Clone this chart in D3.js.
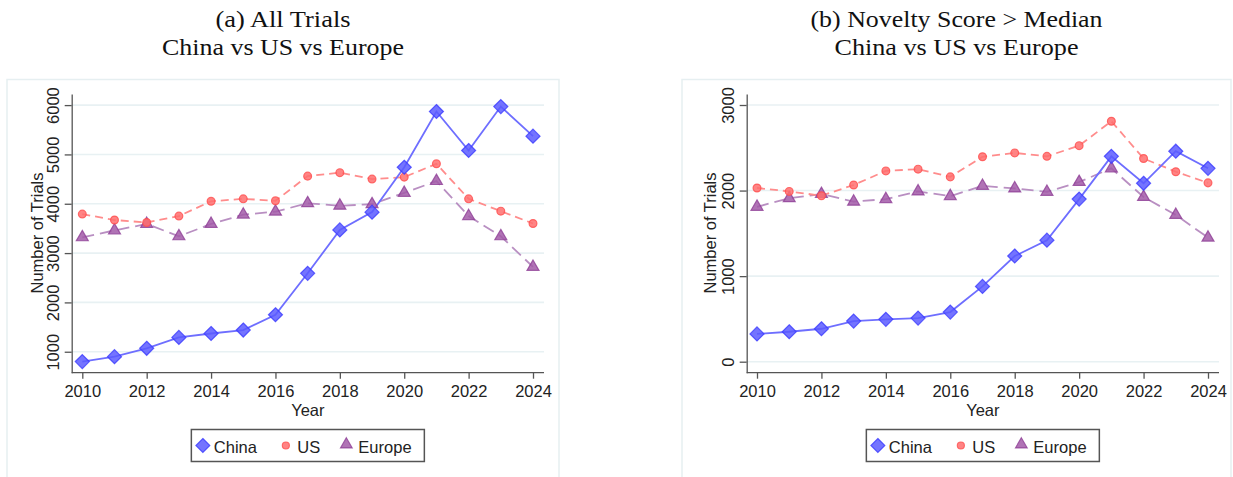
<!DOCTYPE html>
<html><head><meta charset="utf-8">
<script src="https://cdn.jsdelivr.net/npm/d3@7"></script>
<style>body{margin:0;background:#fff}svg{display:block}</style>
</head><body>
<svg id="chart" width="1233" height="477"></svg>
<script>
const years = [2010,2011,2012,2013,2014,2015,2016,2017,2018,2019,2020,2021,2022,2023,2024];
const xTicks = [2010,2012,2014,2016,2018,2020,2022,2024];
// Panel (a) All Trials
const chinaAll  = [800,900,1070,1290,1370,1440,1750,2590,3470,3830,4740,5870,5080,5970,5370];
const usAll     = [3790,3670,3620,3750,4050,4100,4060,4560,4630,4500,4540,4810,4100,3850,3600];
const europeAll = [3320,3460,3590,3340,3590,3780,3840,4010,3960,3990,4220,4460,3750,3340,2720];
const yTicksAll = [1000,2000,3000,4000,5000,6000];
// Panel (b) Novelty Score > Median
const chinaNov  = [325,350,385,475,495,510,580,880,1235,1420,1900,2400,2085,2460,2260];
const usNov     = [2030,1990,1940,2065,2230,2250,2160,2395,2440,2400,2525,2810,2375,2220,2090];
const europeNov = [1810,1910,1960,1870,1900,1990,1935,2055,2025,1985,2100,2260,1925,1715,1450];
const yTicksNov = [0,1000,2000,3000];
const seriesNames = ["China","US","Europe"];
const titlesA = ["(a) All Trials","China vs US vs Europe"];
const titlesB = ["(b) Novelty Score > Median","China vs US vs Europe"];

const svg = d3.select("#chart");
const sans = "'Liberation Sans', Arial, sans-serif";
const serif = "'Liberation Serif', 'Times New Roman', serif";

const styles = {
  China:  {line:"#6e6eff", dash:null, fill:"#5c5cff", stroke:"#3b3bff", sym:d3.symbolDiamond},
  US:     {line:"#ff8c8c", dash:"8,5", fill:"#ff6e6e", stroke:"#ff4d4d", sym:d3.symbolCircle},
  Europe: {line:"#b98fc2", dash:"12,6", fill:"#a25aa8", stroke:"#8e3f96", sym:d3.symbolTriangle}
};

function markerPath(name, size){
  if(name==="China"){
    const h = size; // half diagonal
    return `M0,${-h}L${h},0L0,${h}L${-h},0Z`;
  }
  return d3.symbol().type(styles[name].sym).size(name==="US"? 48 : 62)();
}

function panel(cfg){
  const g = svg.append("g");
  g.append("rect").attr("x",cfg.box[0]).attr("y",cfg.box[1]).attr("width",cfg.box[2]).attr("height",cfg.box[3])
    .attr("fill","none").attr("stroke","#e6eff1").attr("stroke-width",1.5);
  const cx = cfg.box[0] + cfg.box[2]/2;
  cfg.titles.forEach((t,i)=>{
    g.append("text").attr("x",cx).attr("y",[27,55][i]).attr("text-anchor","middle")
      .attr("font-family",serif).attr("font-size",23).attr("fill","#111")
      .attr("textLength",cfg.titleLen[i]).attr("lengthAdjust","spacingAndGlyphs").text(t);
  });
  const x = d3.scaleLinear().domain([2010,2024]).range(cfg.xr);
  const y = d3.scaleLinear().domain(cfg.yd).range([372.7,94]);
  const left = cfg.axisX;
  g.append("g").selectAll("line").data(cfg.yTicks).join("line")
    .attr("x1",left).attr("x2",cfg.gridEnd).attr("y1",d=>y(d)).attr("y2",d=>y(d))
    .attr("stroke","#e8f1f3").attr("stroke-width",1.6);
  const ya = g.append("g").attr("transform",`translate(${left},0)`)
    .call(d3.axisLeft(y).tickValues(cfg.yTicks).tickSize(7).tickSizeOuter(0).tickFormat(d3.format("d")));
  ya.select(".domain").attr("stroke","#555").attr("stroke-width",1.3);
  ya.selectAll(".tick line").attr("stroke","#555").attr("stroke-width",1.3);
  ya.selectAll(".tick text").attr("transform","rotate(-90)").attr("x",0).attr("y",-13).attr("dy",0)
    .attr("text-anchor","middle").attr("font-family",sans).attr("font-size",16.5).attr("fill","#222");
  const xa = g.append("g").attr("transform",`translate(0,372.7)`)
    .call(d3.axisBottom(x).tickValues(xTicks).tickSize(6).tickSizeOuter(0).tickFormat(d3.format("d")));
  xa.select(".domain").attr("stroke","#555").attr("stroke-width",1.3)
    .attr("d",`M${left},0H${cfg.gridEnd}`);
  xa.selectAll(".tick line").attr("stroke","#555").attr("stroke-width",1.3);
  xa.selectAll(".tick text").attr("y",24).attr("dy",0).attr("font-family",sans).attr("font-size",16.5).attr("fill","#222");
  g.append("text").attr("x",(left+cfg.gridEnd)/2).attr("y",416).attr("text-anchor","middle")
    .attr("font-family",sans).attr("font-size",16.5).attr("fill","#222").text("Year");
  g.append("text").attr("transform",`translate(${cfg.ylabX},233) rotate(-90)`).attr("text-anchor","middle")
    .attr("font-family",sans).attr("font-size",16.5).attr("fill","#222").text("Number of Trials");
  const data = {China:cfg.china, US:cfg.us, Europe:cfg.europe};
  const line = d3.line().x((d,i)=>x(years[i])).y(d=>y(d));
  ["Europe","US","China"].forEach(n=>{
    const s = styles[n];
    g.append("path").datum(data[n]).attr("d",line).attr("fill","none")
      .attr("stroke",s.line).attr("stroke-width",1.8).attr("stroke-dasharray",s.dash);
  });
  ["Europe","US","China"].forEach(n=>{
    const s = styles[n];
    g.append("g").selectAll("path").data(data[n]).join("path")
      .attr("transform",(d,i)=>`translate(${x(years[i])},${y(d)})`)
      .attr("d",markerPath(n,7)).attr("fill",s.fill).attr("fill-opacity",0.85)
      .attr("stroke",s.stroke).attr("stroke-width",1.2).attr("stroke-opacity",0.8);
  });
  const lc = (left+cfg.gridEnd)/2;
  const lx = lc - 116.5;
  const lg = g.append("g").attr("transform",`translate(${lx},429.5)`);
  lg.append("rect").attr("width",233).attr("height",32).attr("fill","#fff").attr("stroke","#555").attr("stroke-width",1.5);
  const items = [{n:"China",mx:11.5,tx:22.5},{n:"US",mx:94.5,tx:106},{n:"Europe",mx:155,tx:167}];
  items.forEach(it=>{
    const s = styles[it.n];
    lg.append("path").attr("transform",`translate(${it.mx},${it.n==="Europe"?15:16})`)
      .attr("d", it.n==="China" ? markerPath("China",7) : d3.symbol().type(s.sym).size(it.n==="US"?40:60)())
      .attr("fill",s.fill).attr("fill-opacity",0.85).attr("stroke",s.stroke).attr("stroke-width",1.1).attr("stroke-opacity",0.8);
    lg.append("text").attr("x",it.tx).attr("y",23.5).attr("font-family",sans).attr("font-size",16.5)
      .attr("fill","#222").text(it.n);
  });
}

panel({box:[7,79.5,552,400], titles:titlesA, titleLen:[135,242], xr:[82.3,533], yd:[575,6225],
  axisX:71.7, gridEnd:544, yTicks:yTicksAll, ylabX:43, china:chinaAll, us:usAll, europe:europeAll});
panel({box:[682,79.5,549,400], titles:titlesB, titleLen:[292,244], xr:[757,1208], yd:[-128.6,3128.6],
  axisX:746.7, gridEnd:1219, yTicks:yTicksNov, ylabX:716, china:chinaNov, us:usNov, europe:europeNov});
</script>
</body></html>
